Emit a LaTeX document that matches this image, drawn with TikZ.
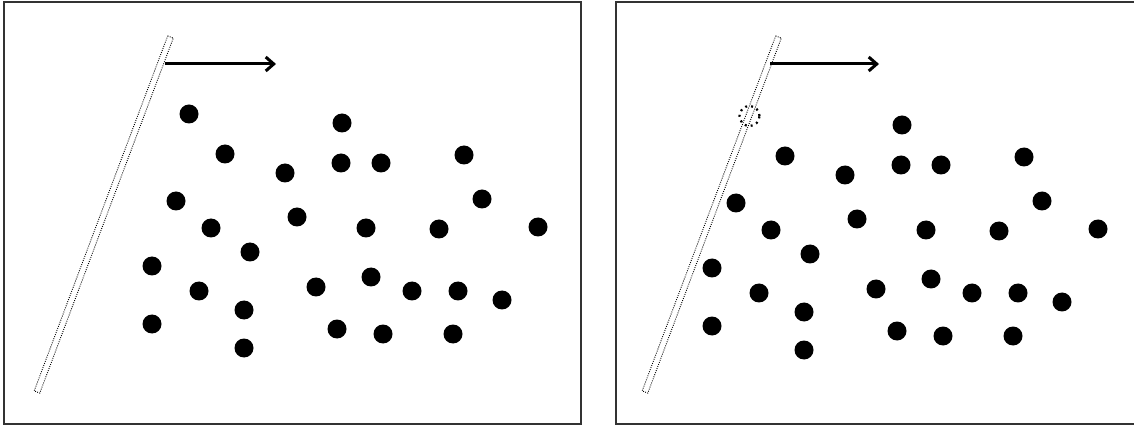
\documentclass[tikz,border=0pt]{standalone}
\usetikzlibrary{arrows.meta}
\newcommand\dotsrest{342/123,225/154,341/163,381/163,464/155,285/173,176/201,482/199,297/217,211/228,366/228,439/229,538/227,250/252,152/266,371/277,199/291,316/287,412/291,458/291,502/300,244/310,152/324,337/329,383/334,453/334,244/348}
\begin{document}
\begin{tikzpicture}[x=1pt,y=-1pt,
  dot/.style={circle,fill=black,inner sep=0pt,minimum size=19pt},
  gone/.style={circle,draw,line width=2.2pt,dash pattern=on 2pt off 4pt,inner sep=0pt,minimum size=20pt},
  frame/.style={draw=black!80,line width=2pt},
  bar/.style={draw=black,dash pattern=on 0.9pt off 1.3pt,line width=0.9pt},
  push/.style={-{Straight Barb[length=8pt,width=14pt]},line width=3pt}]
\useasboundingbox (0,0) rectangle (1134,427);
% before
\draw[frame] (4,2.5) rectangle (580.5,424);
\draw[bar] (167.7,35.9) -- (173.3,38.1) -- (39.8,393.1) -- (34.2,390.9) -- cycle;
\coordinate (la) at (165,64);
\coordinate (lb) at (276,64);
\draw[push] (la) -- (lb);
\node[dot] (l1) at (189,114) {};
\foreach \x/\y [count=\i from 2] in \dotsrest
  \node[dot] (l\i) at (\x,\y) {};
% after
\draw[frame] (1134,2.5) -- (615.5,2.5) -- (615.5,424) -- (1134,424);
\draw[bar] (775.7,35.9) -- (781.3,38.1) -- (647.8,393.1) -- (642.2,390.9) -- cycle;
\coordinate (ra) at (770,64);
\coordinate (rb) at (879,64);
\draw[push] (ra) -- (rb);
\begin{scope}[shift={(560,2)}]
\node[gone] (r1) at (189.5,114) {};
\foreach \x/\y [count=\i from 2] in \dotsrest
  \node[dot] (r\i) at (\x,\y) {};
\end{scope}
\end{tikzpicture}
\end{document}
